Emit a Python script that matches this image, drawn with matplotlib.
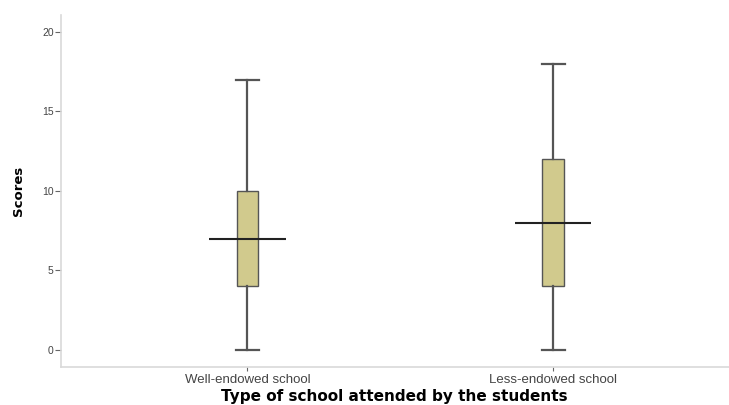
import matplotlib.pyplot as plt

# box statistics
groups = ["Well-endowed school", "Less-endowed school"]
mins = [0, 0]
q1s = [4, 4]
medians = [7, 8]
q3s = [10, 12]
maxs = [17, 18]

positions = [1, 2]
box_color = "#d1ca8d"
line_color = "#555555"
spine_color = "#d9d9d9"

plt.rcParams["font.family"] = ["Liberation Sans", "DejaVu Sans"]

fig = plt.figure(figsize=(7.29, 4.05), dpi=100)
ax = fig.add_axes([0.083, 0.094, 0.917, 0.869])

stats = [
    dict(whislo=lo, q1=a, med=m, q3=b, whishi=hi, fliers=[], label=g)
    for g, lo, a, m, b, hi in zip(groups, mins, q1s, medians, q3s, maxs)
]
ax.bxp(
    stats,
    positions=positions,
    widths=0.07,
    capwidths=0.075,
    patch_artist=True,
    showfliers=False,
    boxprops=dict(facecolor=box_color, edgecolor=line_color, linewidth=1.0),
    whiskerprops=dict(color=line_color, linewidth=1.6),
    capprops=dict(color=line_color, linewidth=1.6),
    medianprops=dict(linewidth=0),
)
# median lines are drawn wider than the boxes
ax.hlines(medians, [p - 0.125 for p in positions], [p + 0.125 for p in positions],
          color="#222222", linewidth=1.5, zorder=4)

ax.set_xlim(0.389, 2.575)
ax.set_ylim(-1.07, 21.07)
ax.set_yticks([0, 5, 10, 15, 20])
ax.set_xticks(positions)
ax.set_xticklabels(groups)

for side in ("top", "right"):
    ax.spines[side].set_visible(False)
for side in ("left", "bottom"):
    ax.spines[side].set_color(spine_color)
    ax.spines[side].set_linewidth(1.2)

ax.tick_params(axis="y", colors="#666666", labelsize=7.5, length=4, width=0.8, pad=1)
ax.tick_params(axis="x", colors="#666666", labelsize=9.5, length=3, width=0.8, pad=2)
for lab in ax.get_xticklabels() + ax.get_yticklabels():
    lab.set_color("#444444")

ax.set_xlabel("Type of school attended by the students", family="DejaVu Sans",
              fontsize=11, fontweight="bold", labelpad=2)
ax.set_ylabel("Scores", family="DejaVu Sans", fontsize=9.5, fontweight="bold", labelpad=12)

fig.savefig("out.png", dpi=100)
